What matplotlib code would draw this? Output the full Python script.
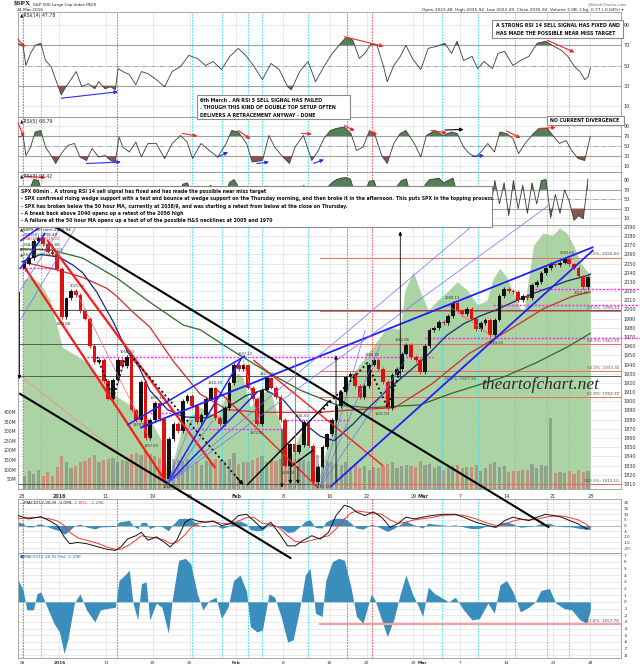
import os
import numpy as np
import matplotlib
matplotlib.use("Agg")
import matplotlib.pyplot as plt
from matplotlib import font_manager
from matplotlib.font_manager import FontProperties
from matplotlib.patches import Rectangle

plt.rcParams['axes.unicode_minus'] = False

# ---------------- data ----------------
# x axis = trading-day index: 0 = 28 Dec 2015 ... 60 = 24 Mar 2016
tick_days = [0, 4, 9, 14, 18, 23, 28, 33, 37, 42, 43, 47, 52, 57, 61]
tick_labels = ['28', '2016', '11', '19', '25', 'Feb', '8', '16', '22', '29', 'Mar', '7', '14', '21', '28']
bold_labels = {'2016', 'Feb', 'Mar'}
red_marks = [0.05, 10.2, 34.9, 37.6]
cyan_marks = [2.0, 18.2, 21.5, 24.2, 25.8, 30.7, 45.1, 48.9, 52.9, 56.4, 58.7]

# SPX 60 min, two readings per session (midday, close)
spx_open0 = 2044
spx_close = [2050, 2056, 2075, 2078, 2071, 2063, 2060, 2044,
             1992, 2012, 2020, 2016, 1998, 1990, 1960, 1943, 1945, 1922,
             1903, 1923, 1945, 1938, 1948, 1890, 1880, 1921, 1860, 1880,
             1898, 1881, 1815, 1859, 1875, 1868, 1900, 1906,
             1895, 1877, 1885, 1903, 1914, 1882, 1875, 1893, 1920, 1940,
             1935, 1939, 1915, 1903, 1875, 1912, 1925, 1915, 1905, 1880,
             1830, 1853, 1845, 1852, 1878, 1851, 1812, 1829, 1850, 1864,
             1880, 1895, 1910, 1926, 1930, 1917, 1905, 1917,
             1940, 1945, 1935, 1921, 1893, 1929, 1935, 1952, 1961, 1948,
             1945, 1932, 1960, 1978, 1980, 1986, 1985, 1993, 2007, 1999,
             1995, 2001, 1990, 1979, 1985, 1989, 1972, 1989, 2015, 2022,
             2020, 2019, 2010, 2015, 2012, 2027, 2030, 2040, 2045, 2050,
             2048, 2051, 2055, 2049, 2045, 2036, 2024, 2035]
volume_m = [70, 95, 80, 100, 65, 90, 70, 115,
            170, 140, 110, 120, 140, 145, 160, 175, 140, 150,
            155, 160, 140, 150, 145, 180, 185, 175, 200, 180,
            170, 160, 230, 200, 155, 150, 145, 155,
            120, 140, 125, 145, 140, 155, 150, 145, 155, 185,
            130, 140, 140, 150, 160, 170, 140, 150, 145, 155,
            180, 170, 155, 160, 150, 145, 185, 175, 130, 145,
            140, 130, 125, 140, 115, 125, 110, 120,
            100, 115, 110, 120, 130, 140, 110, 120, 125, 120,
            115, 145, 125, 130, 110, 120, 100, 115, 120, 125,
            110, 115, 115, 125, 95, 110, 130, 140, 115, 120,
            90, 95, 95, 100, 100, 130, 110, 125, 120, 370,
            85, 90, 85, 95, 80, 100, 90, 95]

ma50_day = [0, 2, 4, 5.5, 6.5, 8, 9.8, 11.3, 12.5, 13.7, 15.6, 17.3, 19.9, 22, 24, 26, 28, 30,
            32, 33.5, 35.5, 37.4, 39.5, 41.5, 43.5, 45.6, 47.5, 49.2, 51, 52.7, 54.5, 56.4, 58.5, 60.7, 61]
ma50_val = [2052, 2060, 2057, 2048, 2040, 2019, 1986, 1954, 1938, 1912, 1891, 1883, 1882, 1893, 1906, 1913,
            1902, 1878, 1862, 1857, 1875, 1895, 1915, 1932, 1950, 1972, 1985, 1993, 2000, 2008, 2016, 2023,
            2031, 2037, 2038.5]
ma100_day = [0, 3.8, 6.5, 9.1, 10.2, 11.9, 13.7, 16.2, 19.1, 22, 25.6, 29.9, 32, 36, 40, 44, 48, 52, 56, 59, 61]
ma100_val = [2052, 2043, 2035, 2023, 2014, 1997, 1981, 1944, 1908, 1891, 1888, 1888, 1888, 1891, 1893, 1919,
             1952, 1976, 2001, 2014, 2019.2]
ma200_day = [0, 3, 6.5, 10.2, 13.7, 17.3, 19.1, 22.6, 26.3, 29.9, 33.8, 37.3, 42.7, 46.2, 51.6, 55.2, 58.7, 61]
ma200_val = [2066, 2065, 2056, 2034, 2008, 1983, 1978, 1955, 1932, 1912, 1896, 1893, 1896, 1909, 1926, 1942,
             1960, 1974]

# green overlay area (drawn on the price scale)
breadth_day = [0.1, 0.9, 1.9, 3.0, 4.3, 6.6, 8.4, 10.2, 11.9, 13.7, 15.1, 15.7, 16.4, 17.3, 19.1, 20.9, 22.0,
               23.1, 23.7, 24.5, 25.6, 26.6, 27.7, 28.8, 29.9, 30.9, 31.7, 33.1, 34.5, 35.8, 37.4, 39.2, 40.6,
               41.1, 42.0, 42.7, 43.6, 44.6, 45.6, 46.7, 47.8, 48.9, 49.9, 50.6, 51.3, 52.1, 52.7, 53.8, 54.9,
               55.9, 57.0, 57.7, 58.5, 59.2, 59.9, 60.7, 61.0]
breadth_val = [2032, 2035, 2029, 2010, 1959, 1945, 1926, 1905, 1894, 1880, 1855, 1814, 1842, 1876, 1894, 1883,
               1909, 1931, 1926, 1894, 1909, 1912, 1876, 1839, 1866, 1847, 1811, 1866, 1916, 1934, 1956, 1981,
               1978, 2021, 2041, 2021, 1999, 2010, 2019, 2030, 2021, 2005, 2010, 2034, 2045, 2034, 2019, 1994,
               2070, 2083, 2081, 2089, 2083, 2070, 2052, 2041, 2040]

rsi14_day = [-0.4, 0.1, 0.4, 0.9, 1.4, 2.0, 2.5, 3.1, 3.6, 4.2, 4.7, 5.3, 5.8, 6.4, 7.1, 7.8, 8.2, 8.9, 9.5,
             10.0, 10.3, 10.8, 11.5, 12.2, 12.8, 13.5, 14.4, 15.3, 16.1, 17.0, 17.9, 18.8, 19.7, 20.5, 21.4,
             22.3, 23.2, 24.1, 24.9, 25.8, 26.7, 27.6, 28.5, 28.9, 29.8, 30.7, 31.5, 32.4, 33.3, 34.2, 34.8,
             35.5, 36.2, 36.8, 37.5, 38.1, 38.8, 39.2, 39.9, 40.6, 41.2, 41.9, 42.8, 43.6, 44.5, 45.4, 46.1,
             46.7, 47.4, 48.3, 48.9, 49.6, 50.5, 51.1, 51.8, 52.7, 53.5, 54.4, 55.3, 56.2, 57.1, 57.9, 58.6,
             59.3, 59.9, 60.4, 60.8, 61.0]
rsi14_val = [72, 69, 50, 62, 70, 72, 55, 49, 36, 21, 29, 37, 44, 29, 32, 27, 34, 27, 29, 26, 47, 44, 41, 31,
             44, 42, 36, 29, 44, 49, 60, 57, 50, 54, 46, 59, 67, 59, 49, 36, 52, 46, 29, 26, 44, 54, 34, 49,
             62, 72, 78, 75, 57, 62, 72, 70, 49, 34, 50, 59, 70, 57, 46, 67, 69, 72, 62, 74, 55, 59, 47, 54,
             47, 62, 64, 50, 55, 59, 72, 74, 69, 65, 59, 49, 44, 36, 39, 47.8]

rsi5_day = [-0.4, 0.1, 0.4, 0.9, 1.4, 2.0, 2.5, 3.1, 3.6, 4.2, 4.9, 5.6, 6.2, 6.9, 7.5, 8.2, 8.9, 9.5, 10.0,
            10.4, 10.8, 11.5, 12.2, 12.8, 13.5, 14.4, 15.3, 16.1, 17.0, 17.7, 18.3, 19.2, 20.1, 21.0, 21.9,
            22.5, 23.2, 24.1, 24.7, 25.8, 26.5, 27.1, 28.0, 28.7, 29.3, 30.2, 31.1, 31.8, 32.4, 33.1, 33.7,
            34.6, 35.3, 35.9, 36.6, 37.3, 37.9, 38.6, 39.2, 39.9, 40.6, 41.2, 42.1, 42.8, 43.4, 44.3, 45.2,
            46.1, 46.7, 47.4, 48.0, 48.7, 49.4, 50.0, 50.7, 51.3, 52.0, 52.7, 53.3, 54.0, 54.9, 55.5, 56.4,
            57.1, 57.7, 58.4, 59.0, 59.7, 60.4, 61.0]
rsi5_val = [68, 71, 31, 48, 78, 81, 48, 31, 15, 35, 51, 55, 28, 21, 45, 28, 31, 21, 18, 68, 48, 38, 58, 28,
            55, 55, 25, 55, 71, 58, 25, 55, 41, 28, 55, 81, 78, 55, 18, 21, 71, 48, 28, 15, 48, 71, 21, 41,
            65, 81, 85, 88, 75, 41, 48, 81, 71, 31, 15, 55, 75, 81, 55, 28, 71, 81, 71, 78, 75, 48, 35, 28,
            41, 55, 38, 78, 75, 65, 35, 55, 75, 85, 85, 68, 55, 61, 41, 25, 21, 68.8]

# RSI(3), two readings per session
rsi3_val = [45, 70, 92, 90, 55, 35, 30, 15, 8, 45,
            60, 50, 22, 18, 10, 8, 20, 10, 6, 50,
            75, 60, 70, 15, 10, 60, 15, 45, 65, 40,
            8, 55, 68, 55, 82, 85, 55, 30, 45, 70,
            80, 25, 20, 55, 85, 92, 75, 78, 35, 25,
            12, 65, 78, 55, 40, 18, 6, 45, 40, 52,
            80, 35, 10, 35, 65, 75, 85, 92, 95, 96,
            93, 60, 40, 60, 88, 90, 65, 35, 12, 70,
            78, 90, 93, 55, 48, 30, 80, 92, 93, 95,
            85, 90, 95, 60, 45, 60, 35, 15, 35, 50,
            25, 90, 40, 85, 15, 90, 30, 80, 20, 85,
            40, 90, 92, 10, 60, 20, 70, 45, 5, 15,
            8, 93]

macd_day = [-0.4, 0.7, 2.0, 2.9, 3.8, 4.5, 5.1, 6.0, 6.9, 8.2, 9.1, 10.0, 10.6, 11.3, 12.2, 12.8, 13.5, 14.4,
            15.3, 15.9, 16.6, 17.5, 18.1, 18.8, 19.7, 20.5, 21.4, 22.3, 23.2, 24.1, 24.9, 25.8, 26.7, 27.6,
            28.5, 29.3, 30.2, 31.1, 32.0, 32.9, 33.7, 34.6, 35.3, 35.9, 36.8, 37.7, 38.6, 39.5, 40.3, 41.2,
            42.1, 43.0, 43.9, 45.2, 46.5, 47.4, 48.7, 50.0, 50.9, 51.8, 52.7, 53.5, 54.4, 55.3, 56.2, 57.1,
            57.9, 58.8, 59.7, 60.6, 61.0]
macd_val = [8.8, 5.9, 7.9, 4.4, 0, -10, -16, -15, -16, -19, -21, -22, -19, -12, -9, -6, -13, -10, -15, -19,
            -13, 3, 6, 4, 3, 4, 0, 1.5, 8.8, 10, 4, -3, 3, -7, -18, -18, -13, -9, -12, -6, 8.8, 18, 16, 12,
            8.8, 12, 7.4, -1.5, 1.5, 7.4, 5.9, 7.4, 8.8, 10, 10, 7.4, 3, 0, -1.5, 4.4, 7.4, 5.9, 4.4, 7.4,
            10, 8.8, 7.4, 4.4, 1.5, -3, -3.1]
macd_sig = [6, 7, 7, 6, 4, 0, -6, -11, -13, -16, -19, -21, -21, -18, -13, -9, -10, -11, -13, -16, -15, -8,
            -2, 2, 3, 3.5, 2, 1.5, 4, 7, 7, 2, 1, -2, -9, -14, -15, -13, -11, -9, -3, 6, 11, 13, 12, 11, 10,
            5, 2, 3, 5, 6, 7, 9, 9.5, 9, 6, 2, 0, 1, 4, 5.5, 5, 5.5, 7.5, 8.5, 8.5, 7, 5, 1, -1.8]

hist_day = [-0.4, 0.1, 0.5, 1.2, 1.6, 2.0, 2.5, 3.4, 4.0, 4.5, 4.9, 5.6, 6.2, 6.9, 7.8, 8.4, 9.1, 10.0, 10.4,
            10.8, 11.5, 11.9, 12.4, 12.8, 13.3, 13.7, 14.4, 15.0, 15.7, 16.1, 16.8, 17.5, 18.1, 18.8, 19.4,
            20.1, 20.8, 21.4, 22.1, 22.7, 23.4, 24.1, 24.5, 25.2, 25.8, 26.5, 27.1, 27.8, 28.5, 29.1, 29.8,
            30.4, 30.9, 31.5, 32.2, 32.6, 33.3, 34.0, 34.6, 35.3, 35.9, 36.6, 37.5, 37.9, 38.6, 39.2, 39.9,
            40.6, 41.2, 41.9, 42.5, 43.0, 43.6, 44.3, 45.2, 45.8, 46.5, 47.4, 48.3, 49.1, 50.0, 50.7, 51.3,
            52.0, 52.7, 53.5, 54.4, 55.1, 55.7, 56.6, 57.3, 58.2, 59.0, 59.9, 60.6, 61.0]
hist_val = [3.2, 1.7, -1.2, -1.2, 1.2, 1.5, -0.2, -3.2, -4.5, -7.7, -5.7, -0.2, 1.2, -1.2, -3, -1.2, -1, -0.8,
            3.2, 3.7, 4.7, -0.2, -2.7, 2.7, 3, -2.7, -0.2, -0.8, -4.7, 0.2, 6.2, 6.5, 5.7, 1.2, -1.2, 0.2,
            0.7, -2.5, -0.8, 3.2, 4, 1.5, -3.7, -4.5, -4.2, 1.2, 0.7, -2.2, -6, -5.7, -1, 4, 5, -1.7, -2.2,
            3.2, 6, 6.5, 6.2, 2.2, -2.2, -3.2, 1.2, 0.2, -2.7, -5.2, -2.7, 1.2, 4, 1.2, -0.5, -2.2, 2.2,
            1.2, 0.5, 0, 0.7, -1.2, -2.7, -2.5, -0.2, -1.7, 2.5, 3.2, 1.5, -1.5, -0.8, 0, 1.7, 2, -0.2, -1,
            -1.2, -2.7, -3.2, -1.3]

# divergence arrows (day0, value0, day1, value1, colour)
RED, BLUE = '#ff2020', '#2a2aff'
rsi14_arrows = [(-0.45, 76, 0.3, 68, RED), (4.2, 17.6, 10.3, 24, BLUE),
                (34.6, 78.5, 38.8, 69, RED), (56.4, 75, 59.3, 63, RED)]
rsi5_arrows = [(-0.45, 96, 0.2, 68, RED), (6.9, 15, 10.6, 18, BLUE), (17.2, 75, 18.8, 70, RED),
               (21.0, 28, 22.1, 38, BLUE), (23.2, 81, 24.5, 64, RED), (25.2, 15, 26.5, 18, BLUE),
               (30.0, 75, 31.1, 74, RED), (31.3, 15, 32.4, 23, BLUE), (34.6, 91, 35.7, 80, RED),
               (37.3, 80, 38.1, 72, RED), (43.9, 81, 45.6, 76, RED), (45.4, 82, 47.4, 83, 'black'),
               (48.3, 29, 49.6, 31, BLUE), (52.0, 80, 53.5, 66, RED), (55.5, 85, 57.3, 87, RED)]
rsi3_arrows = [(0.3, 99, 2.5, 96, RED)]

# trend lines on the price panel: (points, colour, width, style)
trend_lines = [
    ([(0.32, 2045.2), (15.57, 1810)], '#ff1a1a', 1.6, '-'),
    ([(2.69, 2075.6), (20.73, 1827.4)], '#ff1a1a', 1.6, '-'),
    ([(24.81, 1945), (38.78, 1829.6)], '#ff1a1a', 1.0, '-'),
    ([(20.95, 1912.3), (31.69, 1806.7)], '#ff1a1a', 1.0, '-'),
    ([(-0.21, 1927.6), (13.75, 1816.5)], '#ff8080', 0.5, '-'),
    ([(5.69, 2021.2), (13.75, 1857.9)], '#ff6060', 0.5, '-'),
    ([(23.74, 1945), (25.56, 1872)], '#ff6060', 0.5, '-'),
    ([(45.65, 2004.9), (50.27, 1972.2)], '#ff6060', 0.5, '-'),
    ([(12.67, 1871), (61.33, 2068)], '#1f1fff', 1.3, '-'),
    ([(33.08, 1806.7), (61.33, 2064.8)], '#1f1fff', 1.3, '-'),
    ([(15.57, 1810), (23.63, 1948.3)], '#1f1fff', 1.1, '-'),
    ([(15.57, 1810), (25.24, 1910.2)], '#1f1fff', 1.1, '-'),
    ([(11.28, 1874.2), (23.95, 1949.4)], '#1f1fff', 1.1, '-'),
    ([(-0.21, 2074.6), (1.93, 2089.8)], '#1f1fff', 1.1, '-'),
    ([(-0.21, 2044.5), (2.47, 2083.3)], '#1f1fff', 1.1, '-'),
    ([(-0.21, 2021.2), (4.08, 2088.7)], '#6f6fff', 0.5, '-'),
    ([(-0.21, 1988.5), (5.69, 2088.7)], '#6f6fff', 0.5, '-'),
    ([(15.57, 1810), (48.44, 2092)], '#6f6fff', 0.5, '-'),
    ([(15.57, 1810), (18.26, 1879.7)], '#6f6fff', 0.5, '-'),
    ([(15.57, 1810), (20.52, 1879.7)], '#6f6fff', 0.5, '-'),
    ([(32.0, 1806.7), (36.84, 1977.7)], '#6f6fff', 0.5, '-'),
    ([(32.0, 1806.7), (38.45, 1961.3)], '#6f6fff', 0.5, '-'),
    ([(32.0, 1806.7), (41.14, 1945)], '#6f6fff', 0.5, '-'),
    ([(8.06, 1948.3), (9.77, 1903.6), (11.06, 1947.2)], 'black', 1.3, ':'),
    ([(11.6, 1950.4), (23.74, 1809)], 'black', 1.3, ':'),
    ([(32.0, 1887.4), (37.06, 1941.7), (39.2, 1893.8), (40.92, 1941.7)], 'black', 1.3, ':'),
    ([(24.17, 1809), (33.08, 1901.4)], 'black', 1.0, '-'),
    ([(28.8, 1828.5), (31.26, 1847)], 'black', 1.0, '-'),
]
# lines that run on past the price panel into the panels below / above
long_lines = [
    ([(3.76, 2088.7), (56.5, 1763.2)], 'black', 1.5),
    ([(-0.21, 1908), (28.8, 1729.4)], 'black', 1.5),
    ([(15.57, 1810), (56.6, 2113.8)], '#6f6fff', 0.5),
]
# vertical arrows (day, from, to, colour)
v_arrows = [(-0.3, 2019, 1924, 'black'), (40.6, 1926, 2085, 'black'), (33.7, 1812, 1950, 'black'),
            (27.9, 1869, 1806, 'black'), (28.8, 1829, 1810, 'black'), (29.6, 1829, 1810, 'black')]
# dashed magenta levels (day0, day1, price)
magenta_levels = [(-0.4, 4.1, 2045), (6.5, 44.1, 1948), (13.7, 17.5, 1887), (16.4, 28.2, 1870),
                  (28.0, 35.2, 1880), (55.1, 66.4, 2022.3), (50.6, 66.4, 2005), (43.3, 66.4, 1969)]
grey_levels = [1999.5, 1962, 1927.84, 1810.1]
fib_levels = [2056.60, 1998.43, 1962.45, 1933.35, 1904.25, 1810.10, 1657.78]
fib_labels = ['0.0%: 2056.60', '23.6%: 1998.43', '38.2%: 1962.45', '50.0%: 1933.35',
              '61.8%: 1904.25', '100.0%: 1810.10', '161.8%: 1657.78']
fib_start = 32.0
price_notes = [(5.9, 2026, '2021.94'), (4.4, 1984, '1989.68'), (11.3, 1954, '1950.33'),
               (14.5, 1904, '1901.44'), (12.7, 1874, '1878.93'), (13.8, 1851, '1857.83'),
               (15.9, 1807, '1812.29'), (20.7, 1920, '1916.99'), (23.9, 1951, '1947.20'),
               (25.2, 1866, '1872.65'), (26.3, 1930, '1927.35'), (30.0, 1884, '1881.60'),
               (28.5, 1822, '1828.46'), (32.3, 1807, '1810.10'), (37.6, 1950, '1946.70'),
               (38.6, 1886, '1891.00'), (40.8, 1967, '1962.96'), (46.2, 2012, '2009.13'),
               (50.9, 1964, '1969.25'), (58.5, 2062, '2056.60'), (60.0, 2018, '2022.49')]

# ---------------- fonts ----------------
files = {os.path.basename(f.fname): f.fname for f in font_manager.fontManager.ttflist}


def find_font(default, *names):
    for n in names:
        if n in files:
            return FontProperties(fname=files[n])
    return default


narrow_bold = find_font(FontProperties(family='DejaVu Sans', weight='bold'),
                        'LiberationSansNarrow-Bold.ttf', 'DejaVuSansCondensed-Bold.ttf',
                        'LiberationSans-Bold.ttf')
serif_it = find_font(FontProperties(family='DejaVu Serif', style='italic'),
                     'LiberationSerif-Italic.ttf', 'DejaVuSerif-Italic.ttf')
serif_bold = find_font(FontProperties(family='DejaVu Serif', weight='bold'),
                       'LiberationSerif-Bold.ttf', 'DejaVuSerif-Bold.ttf')

# ---------------- figure ----------------
fig = plt.figure(figsize=(6.4, 6.68), dpi=100)
fig.patch.set_facecolor('white')
XL = (-0.45, 64.3)
GRID = '#e2e2e2'
TICK_FS = 3.5


def panel(top, bottom):
    return fig.add_axes([18 / 640, 1 - bottom / 668, 603 / 640, (bottom - top) / 668])


def marks(ax):
    for d in red_marks:
        ax.axvline(d, color='#ff3c3c', lw=0.6, ls=(0, (2, 1.5)), zorder=1.5)
    for d in cyan_marks:
        ax.axvline(d, color='#28e0f0', lw=0.6, ls=(0, (2, 1.5)), zorder=1.5)


def dress(ax, yticks, ylim, grid=True, fs=TICK_FS):
    ax.set_facecolor('none')
    ax.set_xlim(*XL)
    ax.set_ylim(*ylim)
    ax.set_xticks(tick_days)
    ax.set_xticklabels([])
    ax.yaxis.tick_right()
    ax.set_yticks(yticks)
    ax.tick_params(length=0, labelsize=fs, colors='#333333', pad=2)
    if grid:
        ax.grid(True, color=GRID, lw=0.5)
        ax.set_axisbelow(True)
    for s in ax.spines.values():
        s.set_color('#9a9a9a')
        s.set_linewidth(0.6)


def arrow(ax, x0, y0, x1, y1, color, lw=0.8):
    ax.annotate('', xy=(x1, y1), xytext=(x0, y0),
                arrowprops=dict(arrowstyle='-|>', color=color, lw=lw, mutation_scale=5,
                                shrinkA=0, shrinkB=0), zorder=6)


def rsi_panel(ax, d, v, arrows):
    d = np.asarray(d, float)
    v = np.asarray(v, float)
    ax.fill_between(d, v, 70, where=v >= 70, interpolate=True, color='#557f55', lw=0, zorder=2)
    ax.fill_between(d, v, 30, where=v <= 30, interpolate=True, color='#87594c', lw=0, zorder=2)
    ax.plot(d, v, color='#3a3a3a', lw=0.6, zorder=3)
    for lv in (70, 30):
        ax.axhline(lv, color='#a0a0a0', lw=0.8, zorder=1)
    ax.axhline(50, color='#a0a0a0', lw=0.6, ls='-.', zorder=1)
    marks(ax)
    for a in arrows:
        arrow(ax, *a)


rsi_ticks = [10, 30, 50, 70, 90]

ax14 = panel(12, 117)
rsi_panel(ax14, rsi14_day, rsi14_val, rsi14_arrows)
dress(ax14, rsi_ticks, (-1, 103))

ax5 = panel(117, 172)
rsi_panel(ax5, rsi5_day, rsi5_val, rsi5_arrows)
dress(ax5, rsi_ticks, (-2, 108))

ax3 = panel(172, 225)
rsi3_day = np.arange(len(rsi3_val)) * 0.5 + 0.25
rsi_panel(ax3, rsi3_day, rsi3_val, rsi3_arrows)
dress(ax3, rsi_ticks, (-5, 108))

# ---- price panel ----
ax = panel(225, 489)
ax_green = ax.twinx()
ax_vol = ax.twinx()
PY = (1804.5, 2092)
price_ticks = list(range(1810, 2091, 10))

ax_green.set_zorder(1)
ax_vol.set_zorder(2)
ax.set_zorder(3)
for a in (ax_green, ax_vol):
    a.set_facecolor('none')
    a.set_xlim(*XL)
    for s in a.spines.values():
        s.set_visible(False)

ax_green.set_ylim(*PY)
ax_green.set_yticks([])
for d in tick_days:
    ax_green.axvline(d, color=GRID, lw=0.5, zorder=0)
for p in price_ticks:
    ax_green.axhline(p, color=GRID, lw=0.5, zorder=0)
ax_green.fill_between(breadth_day, PY[0], breadth_val, color='#abd3a4', lw=0, zorder=1)

closes = np.array(spx_close, float)
opens = np.r_[spx_open0, closes[:-1]]
xs = np.arange(len(closes)) * 0.5 + 0.25
up = closes >= opens
ccol = np.where(up, '#111111', '#dd1111')
ax_vol.bar(xs, volume_m, width=0.34, color=np.where(up, '#7a7a7a', '#d86060'), alpha=0.55, lw=0)
ax_vol.set_ylim(0, 1371)
ax_vol.yaxis.tick_left()
ax_vol.set_yticks(range(50, 401, 50))
ax_vol.set_yticklabels([f'{v}M' for v in range(50, 401, 50)])
ax_vol.tick_params(length=0, labelsize=3.3, colors='#333333', pad=1)

dress(ax, price_ticks, PY, grid=False)
ax.set_xticklabels(tick_labels)
ax.tick_params(axis='x', pad=3.5)
for t in ax.get_xticklabels():
    if t.get_text() in bold_labels:
        t.set_fontweight('bold')
marks(ax)

for lv in grey_levels:
    ax.axhline(lv, color='#5a5a5a', lw=0.7, zorder=2)
ax.text(47, 1927.84 - 1.5, '38.2%: 1927.84', fontsize=3.0, color='#555555', ha='center', va='top')

for lv, lab in zip(fib_levels, fib_labels):
    big = lv < PY[0]
    ax.plot([fib_start, XL[1]], [lv, lv], color='#f7a0a0' if big else '#f06868',
            lw=1.6 if big else 0.7, clip_on=not big, zorder=2)
    ax.text(XL[1] - 0.2, lv + 1.2, lab, fontsize=3.0, color='#555555', ha='right', va='bottom',
            zorder=7)

for d0, d1, p in magenta_levels:
    ax.plot([d0, d1], [p, p], color='#ff22ff', lw=1.0, ls=(0, (1.5, 1.2)), clip_on=False, zorder=3)

ax.plot(ma200_day, ma200_val, color='#2c6a2c', lw=0.9, zorder=3)
ax.plot(ma100_day, ma100_val, color='#d42a2a', lw=0.9, zorder=3)
ax.plot(ma50_day, ma50_val, color='#1c2780', lw=0.9, zorder=3)

lo = np.minimum(opens, closes)
hi = np.maximum(opens, closes)
ax.vlines(xs, lo - 2, hi + 2, colors=ccol, lw=0.6, zorder=4)
ax.bar(xs, np.maximum(hi - lo, 0.8), bottom=lo, width=0.4, color=ccol, lw=0, zorder=4)

for pts, col, lw, ls in trend_lines:
    px_, py_ = zip(*pts)
    ax.plot(px_, py_, color=col, lw=lw, ls=ls, zorder=5, solid_capstyle='butt')
arrow(ax, 23.0, 1817.5, 23.74, 1809, 'black', lw=1.0)
for pts, col, lw in long_lines:
    px_, py_ = zip(*pts)
    ax.plot(px_, py_, color=col, lw=lw, clip_on=False, zorder=5)
for d, p0, p1, col in v_arrows:
    arrow(ax, d, p0, d, p1, col, lw=0.6)
ax.plot([29.3, 29.3], [1948, 1807], color='#777777', lw=0.6, zorder=5)

for d, p, s in price_notes:
    ax.text(d, p, s, fontsize=2.6, color='#333333', ha='center', va='center', zorder=6)

ax.text(55.6, 1918, 'theartofchart.net', fontproperties=serif_it, fontsize=12.5, color='#2a2a2a',
        ha='center', va='center', zorder=6)

# ---- MACD ----
axm = panel(499, 553)
axm.fill_between(hist_day, 0, hist_val, color='#3a8dbd', lw=0, zorder=2)
axm.plot(macd_day, macd_sig, color='#ff3030', lw=0.7, zorder=3)
axm.plot(macd_day, macd_val, color='#111111', lw=0.7, zorder=3)
axm.axhline(0, color='#a0a0a0', lw=0.5, zorder=1)
marks(axm)
dress(axm, list(range(-20, 21, 5)), (-24.3, 23.5), fs=3.0)

# ---- MACD histogram ----
axh = panel(553, 658)
axh.fill_between(hist_day, 0, hist_val, color='#3a8dbd', lw=0, zorder=2)
marks(axh)
dress(axh, list(range(-8, 8)), (-8.4, 7.3), fs=3.2)
axh.set_xticklabels(tick_labels)
axh.tick_params(axis='x', pad=2)
for t in axh.get_xticklabels():
    if t.get_text() in bold_labels:
        t.set_fontweight('bold')

# ---------------- text ----------------
renderer = fig.canvas.get_renderer()


def ftext(x, y, s, **kw):
    kw.setdefault('zorder', 6)
    kw.setdefault('va', 'center')
    return fig.text(x / 640, 1 - y / 668, s, **kw)


def run(x, y, pieces, gap=1.5, **kw):
    # write coloured pieces one after another on a line
    for s, c in pieces:
        t = ftext(x, y, s, color=c, ha='left', **kw)
        x += t.get_window_extent(renderer).width + gap


def box(x0, y0, x1, y1):
    fig.add_artist(Rectangle((x0 / 640, 1 - y1 / 668), (x1 - x0) / 640, (y1 - y0) / 668,
                             transform=fig.transFigure, facecolor='white', edgecolor='#8a8a8a',
                             lw=0.8, zorder=5))


def fitted(lines, x, y0, dy, width_px, fp, color='#111111'):
    probe = fp.copy()
    probe.set_size(10)
    widths = []
    for s in lines:
        t = fig.text(0, 0, s, fontproperties=probe)
        widths.append(t.get_window_extent(renderer).width)
        t.remove()
    f2 = fp.copy()
    f2.set_size(10 * width_px / max(widths))
    for i, s in enumerate(lines):
        ftext(x, y0 + i * dy, s, fontproperties=f2, color=color, ha='left')


box(492, 20, 623, 38)
fitted(['A STRONG RSI 14 SELL SIGNAL HAS FIXED AND', 'HAS MADE THE POSSIBLE NEAR MISS TARGET'],
       496, 25.2, 8.2, 124, narrow_bold)
box(197, 95, 350, 119)
fitted(['6th March . AN RSI 5 SELL SIGNAL HAS FAILED', '. THOUGH THIS KIND OF DOUBLE TOP SETUP OFTEN',
        'DELIVERS A RETRACEMENT ANYWAY - DONE'], 200.5, 100, 7.8, 139, narrow_bold)
box(547, 116, 624, 125)
fitted(['NO CURRENT DIVERGENCE'], 550, 120.5, 0, 70, narrow_bold)
box(18, 186.5, 492, 227)
fitted(['SPX 60min . A strong RSI 14 sell signal has fixed and has made the possible near miss target',
        '- SPX confirmed rising wedge support with a test and bounce at wedge support on the Thursday morning, '
        'and then broke it in the afternoon. This puts SPX in the topping process.',
        '- SPX has broken below the 50 hour MA, currently at 2038/9, and was starting a retest from below '
        'at the close on Thursday.',
        '- A break back above 2040 opens up a retest of the 2056 high',
        '- A failure at the 50 hour MA opens up a test of of the possible H&S necklines at 2005 and 1970'],
       21, 191.8, 7.2, 465, narrow_bold)

# header
t_spx = ftext(14, 4.4, '$SPX', fontproperties=serif_bold, fontsize=5.2, color='#111111', ha='left')
ftext(14 + t_spx.get_window_extent(renderer).width + 2, 4.6, 'S&P 500 Large Cap Index INDX',
      fontsize=3.0, color='#222222', ha='left')
ftext(17, 9.8, '24-Mar-2016', fontsize=3.1, color='#222222', ha='left')
ftext(627, 4.0, '@StockCharts.com', fontsize=3.0, color='#666666', ha='right')
ftext(623, 9.8, 'Open 2022.48  High 2035.94  Low 2022.49  Close 2035.94  Volume 2.0B  Chg -0.77 (-0.04%) \u25be',
      fontsize=3.1, color='#222222', ha='right')

# panel captions
ftext(20, 15.8, '\u25b2RSI(14) 47.78', fontsize=3.3, color='#222222', ha='left')
ftext(20, 122, '\u25b2RSI(5) 68.79', fontsize=3.3, color='#222222', ha='left')
ftext(20, 176, '\u25b2RSI(3) 93.42', fontsize=3.3, color='#222222', ha='left')
legend = [('\u25b2$SPX (60 min) 2035.94', '#111111'), ('\u2014MA(50) 2038.49', '#1c2780'),
          ('\u2014MA(100) 2019.22', '#d42a2a'), ('\u2014MA(200) 1973.88', '#2c6a2c'),
          ('\u25aeVolume 51,953,554', '#444444'), ('\u25b2$SPXA50R 55.60', '#2c6a2c')]
for i, (s, c) in enumerate(legend):
    ftext(20, 229.5 + i * 5, s, fontsize=3.0, color=c, ha='left')
run(20, 502.5, [('\u2014MACD(12,26,9) -3.099,', '#111111'), ('-1.803,', '#ff3030'),
                ('-1.296', '#2a6ab0')], fontsize=3.1)
ftext(20, 556.5, '\u25a0MACD(12,26,9) Hist -1.296', fontsize=3.1, color='#2a6ab0', ha='left')

fig.savefig('out.png', dpi=100, facecolor='white')
